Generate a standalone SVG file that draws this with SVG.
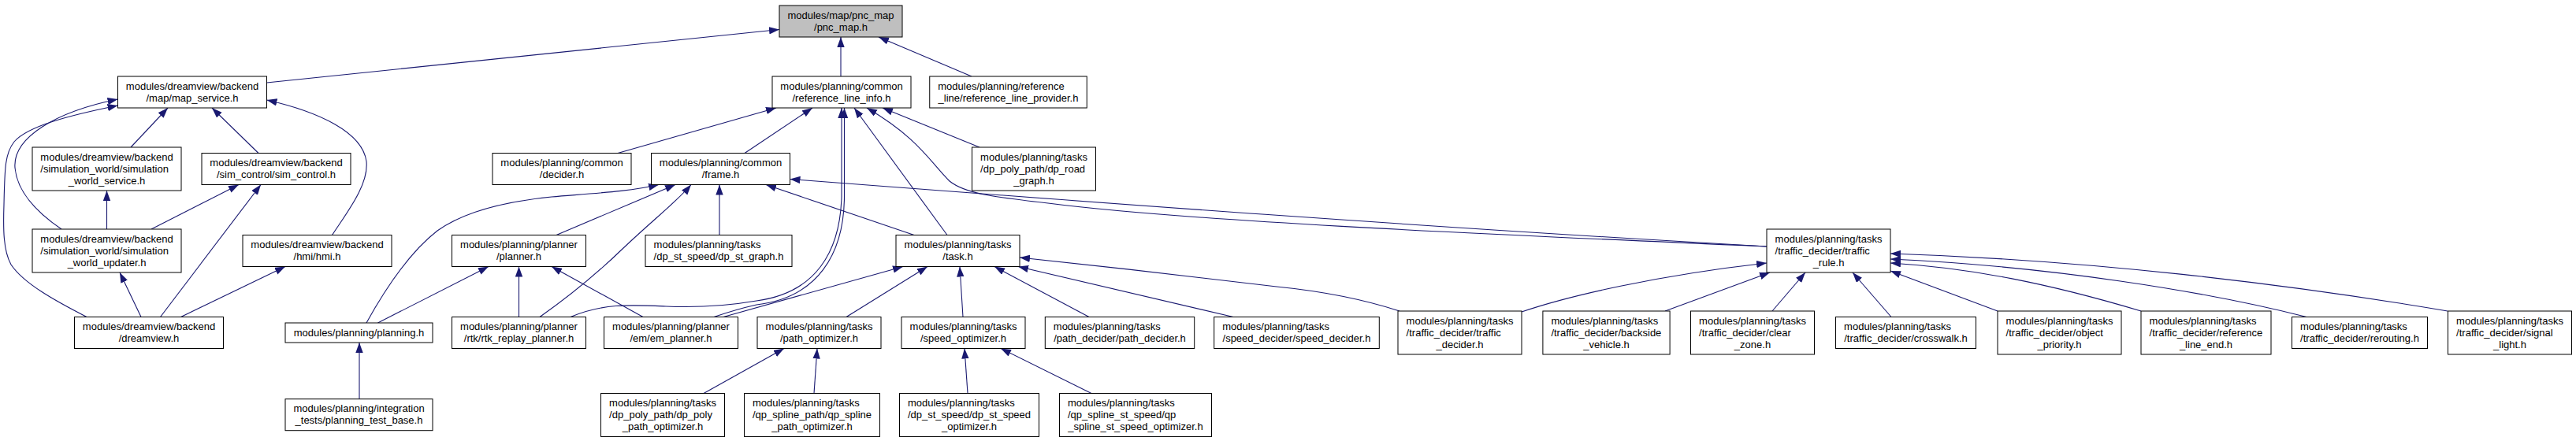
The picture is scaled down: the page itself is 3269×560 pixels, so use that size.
<svg xmlns="http://www.w3.org/2000/svg" width="3269" height="560" viewBox="0 0 3269 560">
<style>
.n rect{fill:#ffffff;stroke:#000000;stroke-width:1}
.n.g rect{fill:#bfbfbf}
.n text{font-family:"Liberation Sans",Arial,Helvetica,sans-serif;font-size:13px;fill:#000000}
.n .c{text-anchor:middle}
#edges path{fill:none;stroke:#191970;stroke-width:1.1;marker-end:url(#ah)}
</style>
<defs>
<marker id="ah" markerUnits="userSpaceOnUse" markerWidth="14" markerHeight="10" refX="13" refY="4.7" orient="auto">
<path d="M0,0 L13,4.7 L0,9.4 z" fill="#191970"/>
</marker>
</defs>
<rect x="0" y="0" width="3269" height="560" fill="#ffffff"/>
<g id="edges">
<path d="M338.5,105 L989,37.5"/>
<path d="M1067,97 L1067,47"/>
<path d="M1233,97 L1115,47"/>
<path d="M166,187 L213,137"/>
<path d="M328,194.5 L269,137"/>
<path d="M78,291 C50,272 22,246 19,213 C16,175 70,142 149.5,126"/>
<path d="M110,402.5 C70,382 30,360 14,336 C4,318 4,290 5,260 C6,215 6,195 18,180 C35,160 90,146 149.5,134"/>
<path d="M421.5,298.5 C440,270 468,235 465,205 C460,168 405,142 338.5,127"/>
<path d="M135.5,291 L135.5,242"/>
<path d="M192,291 L303,234.5"/>
<path d="M179,402.5 L152,346"/>
<path d="M203.5,402.5 L331,234.5"/>
<path d="M229.5,402.5 L362,338.5"/>
<path d="M456,506.7 L456,435"/>
<path d="M479.5,410 L620,338.5"/>
<path d="M465,410 C490,365 520,320 555,293 C590,268 640,256 700,250 C760,245 800,243 836,234.5"/>
<path d="M706,298.5 L857,234.5"/>
<path d="M685,402.5 C720,378 760,345 790,316 C830,278 860,255 877,234.5"/>
<path d="M658.5,402.5 L658.5,338.5"/>
<path d="M816,402.5 L700,338.5"/>
<path d="M724,402.5 C765,385 800,387 845,389 C890,391 925,388 960,382 C1035,372 1066,320 1068,250 L1068,137"/>
<path d="M906,402.5 C925,396 942,391 960,387 C1038,378 1071,322 1071.5,250 L1071.5,137"/>
<path d="M784,194.5 L985,137"/>
<path d="M945,194.5 L1031,137"/>
<path d="M1202,298.5 L1084,137"/>
<path d="M2242,313 C1850,296 1500,280 1330,258 C1260,250 1225,246 1205,230 C1180,205 1165,175 1100,137"/>
<path d="M1243,187 L1120,137"/>
<path d="M2242,313 C1800,288 1400,258 1002.5,227.5"/>
<path d="M913,298.5 L913,234.5"/>
<path d="M1160,298.5 L972,234.5"/>
<path d="M918,402.5 L1146,338.5"/>
<path d="M1074,402.5 L1177,338.5"/>
<path d="M1222,402.5 L1218,338.5"/>
<path d="M1382,402.5 L1262,338.5"/>
<path d="M1565,402.5 L1292,338.5"/>
<path d="M1776,395 C1730,380 1680,370 1620,364 C1520,352 1400,338 1294,327"/>
<path d="M1931,396 C1990,376 2100,350 2242,334"/>
<path d="M2113,395 L2246,346"/>
<path d="M2249,395 L2291,346"/>
<path d="M2400,402.5 L2351,346"/>
<path d="M2535,395 L2399,344"/>
<path d="M2717,395 C2600,360 2500,340 2399,334"/>
<path d="M2927,402.5 C2800,370 2600,338 2399,329"/>
<path d="M3106,395 C2900,360 2650,330 2399,322"/>
<path d="M893,499.5 L995,442.5"/>
<path d="M1033,499.5 L1037,442.5"/>
<path d="M1228,499.5 L1224,442.5"/>
<path d="M1385,499.5 L1270,442.5"/>
</g>
<g id="pnc_map" class="n g"><rect x="989" y="7" width="156" height="40"/><text x="999.45" y="23.5">modules/map/pnc_map</text><text class="c" x="1067" y="38.5">/pnc_map.h</text></g>
<g id="map_service" class="n"><rect x="149.5" y="97" width="189" height="40"/><text x="159.85" y="113.5">modules/dreamview/backend</text><text class="c" x="244" y="128.5">/map/map_service.h</text></g>
<g id="reference_line_info" class="n"><rect x="980" y="97" width="176" height="40"/><text x="990.35" y="113.5">modules/planning/common</text><text class="c" x="1068" y="128.5">/reference_line_info.h</text></g>
<g id="reference_line_provider" class="n"><rect x="1179.75" y="97" width="199.5" height="40"/><text x="1190.25" y="113.5">modules/planning/reference</text><text class="c" x="1279.5" y="128.5">_line/reference_line_provider.h</text></g>
<g id="simulation_world_service" class="n"><rect x="41" y="187" width="189" height="55"/><text x="51.35" y="203.5">modules/dreamview/backend</text><text x="51.35" y="218.5">/simulation_world/simulation</text><text class="c" x="135.5" y="233.5">_world_service.h</text></g>
<g id="sim_control" class="n"><rect x="256" y="194.5" width="189" height="40"/><text x="266.35" y="211">modules/dreamview/backend</text><text class="c" x="350.5" y="226">/sim_control/sim_control.h</text></g>
<g id="decider" class="n"><rect x="625" y="194.5" width="176" height="40"/><text x="635.35" y="211">modules/planning/common</text><text class="c" x="713" y="226">/decider.h</text></g>
<g id="frame" class="n"><rect x="826.5" y="194.5" width="176" height="40"/><text x="836.85" y="211">modules/planning/common</text><text class="c" x="914.5" y="226">/frame.h</text></g>
<g id="dp_road_graph" class="n"><rect x="1233.5" y="187" width="157" height="55"/><text x="1244.1" y="203.5">modules/planning/tasks</text><text x="1244.1" y="218.5">/dp_poly_path/dp_road</text><text class="c" x="1312" y="233.5">_graph.h</text></g>
<g id="simulation_world_updater" class="n"><rect x="41" y="291" width="189" height="55"/><text x="51.35" y="307.5">modules/dreamview/backend</text><text x="51.35" y="322.5">/simulation_world/simulation</text><text class="c" x="135.5" y="337.5">_world_updater.h</text></g>
<g id="hmi" class="n"><rect x="308" y="298.5" width="189" height="40"/><text x="318.35" y="315">modules/dreamview/backend</text><text class="c" x="402.5" y="330">/hmi/hmi.h</text></g>
<g id="planner" class="n"><rect x="573.5" y="298.5" width="170" height="40"/><text x="584.05" y="315">modules/planning/planner</text><text class="c" x="658.5" y="330">/planner.h</text></g>
<g id="dp_st_graph" class="n"><rect x="819" y="298.5" width="186" height="40"/><text x="829.6" y="315">modules/planning/tasks</text><text class="c" x="912" y="330">/dp_st_speed/dp_st_graph.h</text></g>
<g id="task" class="n"><rect x="1137" y="298.5" width="157" height="40"/><text x="1147.6" y="315">modules/planning/tasks</text><text class="c" x="1215.5" y="330">/task.h</text></g>
<g id="traffic_rule" class="n"><rect x="2242" y="291" width="157" height="55"/><text x="2252.6" y="307.5">modules/planning/tasks</text><text x="2252.6" y="322.5">/traffic_decider/traffic</text><text class="c" x="2320.5" y="337.5">_rule.h</text></g>
<g id="dreamview" class="n"><rect x="94.5" y="402.5" width="189" height="40"/><text x="104.85" y="419">modules/dreamview/backend</text><text class="c" x="189" y="434">/dreamview.h</text></g>
<g id="planning" class="n"><rect x="362" y="410" width="187" height="25"/><text class="c" x="455.5" y="427">modules/planning/planning.h</text></g>
<g id="rtk_replay_planner" class="n"><rect x="573.5" y="402.5" width="170" height="40"/><text x="584.05" y="419">modules/planning/planner</text><text class="c" x="658.5" y="434">/rtk/rtk_replay_planner.h</text></g>
<g id="em_planner" class="n"><rect x="766.5" y="402.5" width="170" height="40"/><text x="777.05" y="419">modules/planning/planner</text><text class="c" x="851.5" y="434">/em/em_planner.h</text></g>
<g id="path_optimizer" class="n"><rect x="961" y="402.5" width="157" height="40"/><text x="971.6" y="419">modules/planning/tasks</text><text class="c" x="1039.5" y="434">/path_optimizer.h</text></g>
<g id="speed_optimizer" class="n"><rect x="1144" y="402.5" width="157" height="40"/><text x="1154.6" y="419">modules/planning/tasks</text><text class="c" x="1222.5" y="434">/speed_optimizer.h</text></g>
<g id="path_decider" class="n"><rect x="1326.3" y="402.5" width="189.4" height="40"/><text x="1336.8" y="419">modules/planning/tasks</text><text class="c" x="1421" y="434">/path_decider/path_decider.h</text></g>
<g id="speed_decider" class="n"><rect x="1540.7" y="402.5" width="209.6" height="40"/><text x="1551.2" y="419">modules/planning/tasks</text><text class="c" x="1645.5" y="434">/speed_decider/speed_decider.h</text></g>
<g id="traffic_decider" class="n"><rect x="1774" y="395" width="157" height="55"/><text x="1784.6" y="411.5">modules/planning/tasks</text><text x="1784.6" y="426.5">/traffic_decider/traffic</text><text class="c" x="1852.5" y="441.5">_decider.h</text></g>
<g id="backside_vehicle" class="n"><rect x="1957.9" y="395" width="161.2" height="55"/><text x="1968.4" y="411.5">modules/planning/tasks</text><text x="1968.4" y="426.5">/traffic_decider/backside</text><text class="c" x="2038.5" y="441.5">_vehicle.h</text></g>
<g id="clear_zone" class="n"><rect x="2145.5" y="395" width="157" height="55"/><text x="2156.1" y="411.5">modules/planning/tasks</text><text x="2156.1" y="426.5">/traffic_decider/clear</text><text class="c" x="2224" y="441.5">_zone.h</text></g>
<g id="crosswalk" class="n"><rect x="2329.5" y="402.5" width="178" height="40"/><text x="2340.1" y="419">modules/planning/tasks</text><text class="c" x="2418.5" y="434">/traffic_decider/crosswalk.h</text></g>
<g id="object_priority" class="n"><rect x="2535" y="395" width="157" height="55"/><text x="2545.6" y="411.5">modules/planning/tasks</text><text x="2545.6" y="426.5">/traffic_decider/object</text><text class="c" x="2613.5" y="441.5">_priority.h</text></g>
<g id="reference_line_end" class="n"><rect x="2717" y="395" width="165" height="55"/><text x="2727.6" y="411.5">modules/planning/tasks</text><text x="2727.6" y="426.5">/traffic_decider/reference</text><text class="c" x="2799.5" y="441.5">_line_end.h</text></g>
<g id="rerouting" class="n"><rect x="2908.5" y="402.5" width="172" height="40"/><text x="2919" y="419">modules/planning/tasks</text><text class="c" x="2994.5" y="434">/traffic_decider/rerouting.h</text></g>
<g id="signal_light" class="n"><rect x="3106.5" y="395" width="157" height="55"/><text x="3117.1" y="411.5">modules/planning/tasks</text><text x="3117.1" y="426.5">/traffic_decider/signal</text><text class="c" x="3185" y="441.5">_light.h</text></g>
<g id="planning_test_base" class="n"><rect x="362" y="506.7" width="187" height="40"/><text x="372.4" y="523.2">modules/planning/integration</text><text class="c" x="455.5" y="538.2">_tests/planning_test_base.h</text></g>
<g id="dp_poly_path_optimizer" class="n"><rect x="762.5" y="499.5" width="157" height="55"/><text x="773.1" y="516">modules/planning/tasks</text><text x="773.1" y="531">/dp_poly_path/dp_poly</text><text class="c" x="841" y="546">_path_optimizer.h</text></g>
<g id="qp_spline_path_optimizer" class="n"><rect x="944.5" y="499.5" width="172" height="55"/><text x="955" y="516">modules/planning/tasks</text><text x="955" y="531">/qp_spline_path/qp_spline</text><text class="c" x="1030.5" y="546">_path_optimizer.h</text></g>
<g id="dp_st_speed_optimizer" class="n"><rect x="1141.5" y="499.5" width="177" height="55"/><text x="1151.95" y="516">modules/planning/tasks</text><text x="1151.95" y="531">/dp_st_speed/dp_st_speed</text><text class="c" x="1230" y="546">_optimizer.h</text></g>
<g id="qp_spline_st_speed_optimizer" class="n"><rect x="1344.5" y="499.5" width="193" height="55"/><text x="1355" y="516">modules/planning/tasks</text><text x="1355" y="531">/qp_spline_st_speed/qp</text><text class="c" x="1441" y="546">_spline_st_speed_optimizer.h</text></g>
</svg>
